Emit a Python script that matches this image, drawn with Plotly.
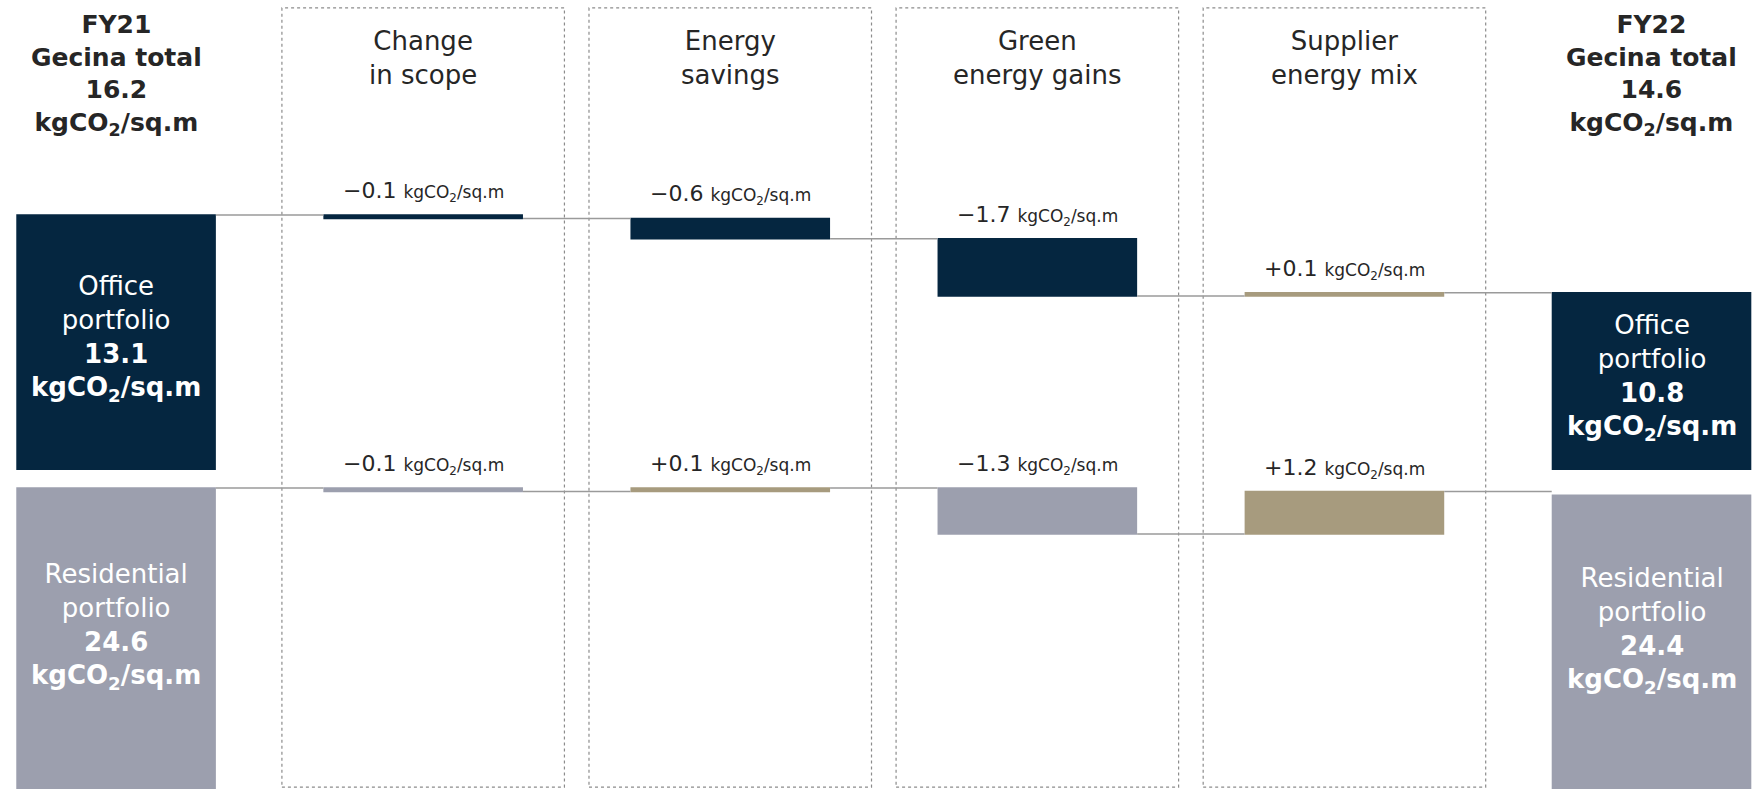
import plotly.graph_objects as go

# ---------------- data ----------------
categories = ["FY21", "Change in scope", "Energy savings", "Green energy gains",
              "Supplier energy mix", "FY22"]
measures = ["absolute", "relative", "relative", "relative", "relative", "absolute"]
office_values = [13.1, -0.1, -0.6, -1.7, 0.1, 10.8]
residential_values = [24.6, -0.1, 0.1, -1.3, 1.2, 24.4]
total_labels = ["FY21", "FY22"]
total_values = [16.2, 14.6]
column_headers = ["Change<br>in scope", "Energy<br>savings", "Green<br>energy gains",
                  "Supplier<br>energy mix"]
UNIT = "kgCO<sub>2</sub>/sq.m"

# ---------------- styles ----------------
NAVY = "#052640"
GREY = "#9C9FAE"
TAN = "#A79B7E"
LINE = "#9a9a9a"
FONT = "DejaVu Sans"
DARK = "#262626"

Y1_RANGE = [5.54, 19.48]     # office axis
Y2_RANGE = [16.10, 25.11]    # residential axis
SPLIT = 0.4043
X_RANGE = [-0.378, 5.337]

fig = go.Figure()


def add_waterfall(values, dec_color, xa, ya):
    fig.add_trace(go.Waterfall(
        x=categories, y=values, measure=measures,
        xaxis=xa, yaxis=ya, width=0.65,
        decreasing=dict(marker=dict(color=dec_color, line=dict(width=0))),
        increasing=dict(marker=dict(color=TAN, line=dict(width=0))),
        totals=dict(marker=dict(color=dec_color, line=dict(width=0))),
        connector=dict(mode="between", line=dict(color=LINE, width=1.5)),
        showlegend=False, hoverinfo="skip",
    ))


add_waterfall(office_values, NAVY, "x", "y")
add_waterfall(residential_values, GREY, "x2", "y2")

ann = []


def step_labels(values, yref):
    running = values[0]
    for i in range(1, len(values) - 1):
        v = values[i]
        start, end = running, running + v
        running = end
        sign = "+" if v > 0 else "\u2212"
        ann.append(dict(
            x=categories[i], y=max(start, end), xref=yref.replace("y", "x"), yref=yref,
            text=f"{sign}{abs(v):.1f} <span style='font-size:17px'>{UNIT}</span>",
            showarrow=False, yanchor="bottom", yshift=8,
            font=dict(family=FONT, size=22, color=DARK),
        ))


step_labels(office_values, "y")
step_labels(residential_values, "y2")

# text inside the base (absolute) bars
for idx in (0, len(categories) - 1):
    ov = office_values[idx]
    rv = residential_values[idx]
    ann.append(dict(
        x=categories[idx], y=(ov + Y1_RANGE[0]) / 2, xref="x", yref="y",
        text=f"Office<br>portfolio<br><b>{ov:.1f}</b><br><b>{UNIT}</b>",
        showarrow=False, yanchor="middle", yshift=4,
        font=dict(family=FONT, size=26, color="white"),
    ))
    ann.append(dict(
        x=categories[idx], y=(rv + Y2_RANGE[0]) / 2, xref="x2", yref="y2",
        text=f"Residential<br>portfolio<br><b>{rv:.1f}</b><br><b>{UNIT}</b>",
        showarrow=False, yanchor="middle", yshift=12,
        font=dict(family=FONT, size=26, color="white"),
    ))

# group totals above the outer columns
for lab, tv, idx in zip(total_labels, total_values, (0, len(categories) - 1)):
    ann.append(dict(
        x=categories[idx], y=0.905, xref="x", yref="paper", yanchor="middle",
        text=f"<b>{lab}<br>Gecina total<br>{tv:.1f}<br>{UNIT}</b>",
        showarrow=False, font=dict(family=FONT, size=25, color=DARK),
    ))

# column headers and dotted frames
shapes = []
for j, h in enumerate(column_headers):
    i = j + 1
    ann.append(dict(
        x=categories[i], y=0.9265, xref="x", yref="paper", yanchor="middle", text=h,
        showarrow=False, font=dict(family=FONT, size=26, color=DARK),
    ))
    shapes.append(dict(
        type="rect", xref="x", yref="paper", x0=i - 0.46, x1=i + 0.46,
        y0=0.0025, y1=0.99, layer="below",
        line=dict(color="#8c8c8c", width=1.2, dash="dot"),
    ))

axis_common = dict(visible=False, showgrid=False, zeroline=False, fixedrange=True)
fig.update_layout(
    width=1755, height=789,
    margin=dict(l=0, r=0, t=0, b=0),
    paper_bgcolor="white", plot_bgcolor="rgba(0,0,0,0)",
    xaxis=dict(axis_common, domain=[0, 1], range=X_RANGE, anchor="y",
               type="category", categoryorder="array", categoryarray=categories),
    xaxis2=dict(axis_common, domain=[0, 1], range=X_RANGE, anchor="y2",
                type="category", categoryorder="array", categoryarray=categories),
    yaxis=dict(axis_common, domain=[SPLIT, 1], range=Y1_RANGE, anchor="x"),
    yaxis2=dict(axis_common, domain=[0, SPLIT], range=Y2_RANGE, anchor="x2"),
    annotations=ann, shapes=shapes,
    font=dict(family=FONT),
)

fig.write_html("out.html")
